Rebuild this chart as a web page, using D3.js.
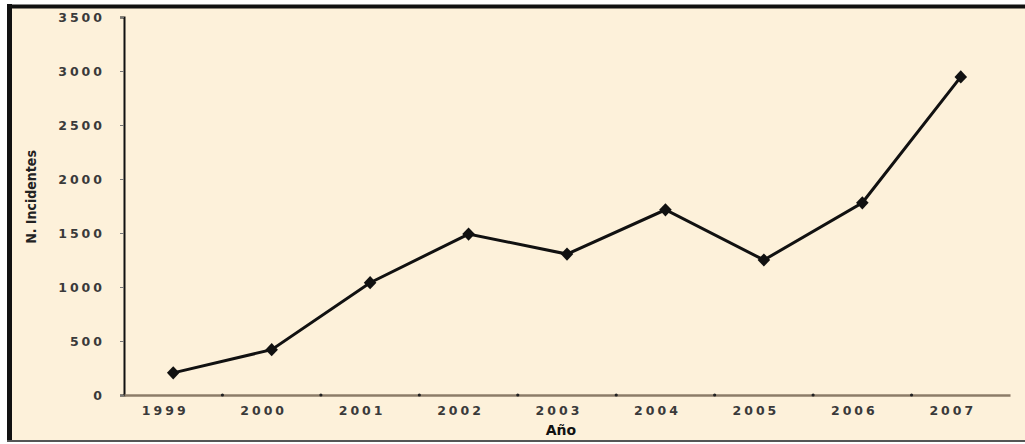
<!DOCTYPE html>
<html>
<head>
<meta charset="utf-8">
<script src="https://cdn.jsdelivr.net/npm/d3@7"></script>
<style>
  body { margin: 0; background: #fff; }
  svg text { font-family: "DejaVu Sans", sans-serif; }
</style>
</head>
<body>
<div class="c_chart"></div>
<script>
/* DATA
------------------------------------------------------
*/
const years = ["1999", "2000", "2001", "2002", "2003", "2004", "2005", "2006", "2007"];
const incidents = [205, 420, 1040, 1490, 1305, 1715, 1250, 1780, 2945];
const yTicks = [0, 500, 1000, 1500, 2000, 2500, 3000, 3500];

/* INITIATE
------------------------------------------------------
*/
const width = 1025;
const height = 444;
const margin = {top: 17, right: 15, bottom: 49, left: 124};

const svg = d3.select(".c_chart")
  .append("svg")
  .attr("width", width)
  .attr("height", height);

/* background + frame */
svg.append("rect")
  .attr("x", 10).attr("y", 7)
  .attr("width", width - 10).attr("height", 434)
  .attr("fill", "#fdf1da");
svg.append("line")
  .attr("x1", 9.5).attr("x2", 9.5).attr("y1", 4).attr("y2", 442)
  .attr("stroke", "#111").attr("stroke-width", 5);
svg.append("line")
  .attr("x1", 7).attr("x2", width).attr("y1", 6.5).attr("y2", 6.5)
  .attr("stroke", "#111").attr("stroke-width", 4);
svg.append("line")
  .attr("x1", 7).attr("x2", width).attr("y1", 441).attr("y2", 441)
  .attr("stroke", "#555").attr("stroke-width", 2);

/* SCALES
------------------------------------------------------
*/
const x = d3.scaleBand()
  .domain(years)
  .range([margin.left, width - margin.right]);

const y = d3.scaleLinear()
  .domain([0, 3500])
  .range([height - margin.bottom, margin.top]);

/* AXES
------------------------------------------------------
*/
const yAxis = svg.append("g")
  .attr("transform", `translate(${margin.left},0)`)
  .call(d3.axisLeft(y).tickValues(yTicks).tickFormat(d3.format("d")).tickSize(4).tickPadding(15));
yAxis.select(".domain").attr("stroke", "#111").attr("stroke-width", 2);
yAxis.selectAll(".tick line").attr("stroke", "#777");
yAxis.selectAll("text")
  .attr("fill", "#3a3a3a")
  .style("font-size", "12.5px")
  .style("font-weight", "bold")
  .style("letter-spacing", "3px");

const xAxis = svg.append("g")
  .attr("transform", `translate(0,${height - margin.bottom})`)
  .call(d3.axisBottom(x).tickSize(0).tickPadding(11));
xAxis.select(".domain").attr("stroke", "#8c7c68").attr("stroke-width", 2.5);
xAxis.selectAll("text")
  .attr("fill", "#3a3a3a")
  .attr("dx", "-8px")
  .style("font-size", "12.5px")
  .style("font-weight", "bold")
  .style("letter-spacing", "3px");

/* tick marks between categories */
svg.append("g")
  .selectAll("circle")
  .data(years.slice(1))
  .enter()
  .append("circle")
  .attr("cx", d => x(d))
  .attr("cy", height - margin.bottom)
  .attr("r", 1.6)
  .attr("fill", "#222");

/* axis titles */
svg.append("text")
  .attr("transform", `translate(36,197) rotate(-90)`)
  .attr("text-anchor", "middle")
  .style("font-family", "'Liberation Sans Narrow', 'DejaVu Sans Condensed', sans-serif")
  .style("font-size", "14px")
  .style("font-weight", "bold")
  .attr("fill", "#222")
  .text("N. Incidentes");

svg.append("text")
  .attr("x", x("2003") + x.bandwidth() / 2 - 6)
  .attr("y", 435)
  .attr("text-anchor", "middle")
  .style("font-size", "14px")
  .style("font-weight", "bold")
  .attr("fill", "#111")
  .text("Año");

/* LINE
------------------------------------------------------
*/
const line = d3.line()
  .x((d, i) => x(years[i]) + x.bandwidth() / 2)
  .y(d => y(d));

svg.append("path")
  .datum(incidents)
  .attr("d", line)
  .attr("fill", "none")
  .attr("stroke", "#111")
  .attr("stroke-width", 3);

svg.append("g")
  .selectAll("path")
  .data(incidents)
  .enter()
  .append("path")
  .attr("d", d3.symbol(d3.symbolDiamond, 70))
  .attr("transform", (d, i) => `translate(${x(years[i]) + x.bandwidth() / 2},${y(d)}) scale(1.4,0.85)`)
  .attr("fill", "#111");
</script>
</body>
</html>
